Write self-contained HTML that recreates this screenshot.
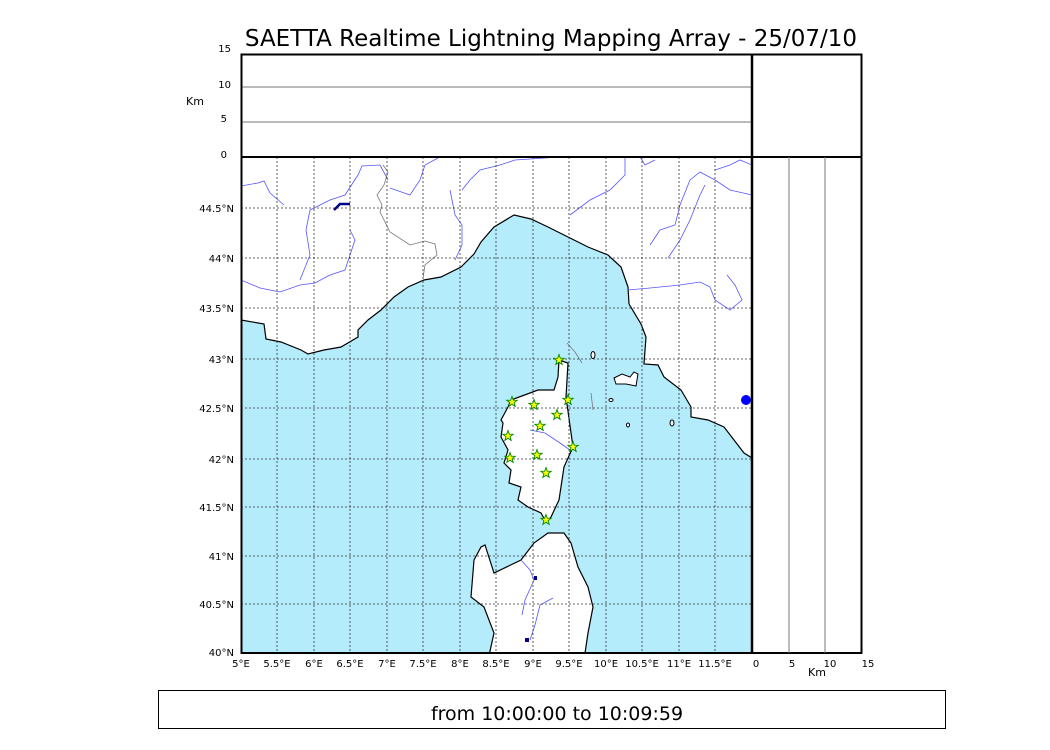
<!DOCTYPE html>
<html><head><meta charset="utf-8"><style>
body{margin:0;background:#fff;}
svg{display:block;font-family:"DejaVu Sans","Liberation Sans",sans-serif;}
</style></head><body>
<svg width="1050" height="750" viewBox="0 0 1050 750">
<rect width="1050" height="750" fill="#fff"/>
<text x="551" y="46" font-size="23" text-anchor="middle">SAETTA Realtime Lightning Mapping Array - 25/07/10</text>
<line x1="241" y1="87" x2="752" y2="87" stroke="#777" stroke-width="1"/>
<line x1="241" y1="122" x2="752" y2="122" stroke="#777" stroke-width="1"/>
<rect x="241.5" y="54.5" width="620" height="102.5" fill="none" stroke="#000" stroke-width="2"/>
<line x1="752" y1="54" x2="752" y2="157" stroke="#000" stroke-width="2.5"/>
<g font-size="10" text-anchor="end">
<text x="231" y="52">15</text><text x="231" y="88">10</text><text x="227" y="122">5</text><text x="227" y="158">0</text>
</g>
<text x="186" y="105" font-size="11">Km</text>
<clipPath id="mc"><rect x="241" y="157" width="511" height="496"/></clipPath>
<g clip-path="url(#mc)">
<path fill="#b5ecfc" stroke="#000" stroke-width="1.2" d="M241,320 L264,324 266,339 281,342 301,350 308,354 324,350 341,347 358,337 358,330 368,320 381,310 394,297 408,287 424,280 441,277 461,267 474,254 481,242 494,227 514,215 531,219 548,227 568,237 588,247 608,255 621,267 628,287 629,304 641,324 646,337 644,364 658,365 664,377 681,390 691,407 691,417 708,420 724,427 734,440 744,453 752,458 L752,660 L241,660 Z"/>
<path fill="#fff" stroke="#000" stroke-width="1.2" d="M559,360 568,363 566,397 573,447 564,467 559,500 551,517 546,522 541,513 528,507 518,500 521,487 509,483 511,470 504,463 508,450 501,437 503,423 501,420 508,407 511,400 538,390 554,390 558,377 Z"/>
<path fill="#fff" stroke="#000" stroke-width="1.2" d="M548,533 564,533 571,543 578,567 588,587 593,607 588,633 584,660 488,660 494,633 484,607 471,597 474,560 481,547 485,545 494,573 521,560 534,543 Z"/>
<path fill="#fff" stroke="#000" stroke-width="1" d="M614,378 622,374 630,377 634,372 638,374 636,386 626,384 616,384 Z"/>
<ellipse cx="593" cy="355" rx="2" ry="3.5" fill="#fff" stroke="#000"/>
<ellipse cx="611" cy="400" rx="2" ry="1.5" fill="#fff" stroke="#000"/>
<ellipse cx="628" cy="425" rx="1.5" ry="2" fill="#fff" stroke="#000"/>
<ellipse cx="672" cy="423" rx="2" ry="3" fill="#fff" stroke="#000"/>
<g fill="none" stroke="#55f" stroke-width="0.8">
<path d="M241,186 258,183 264,181 270,193 284,205"/>
<path d="M241,280 L260,288 280,292 300,285 315,283 330,275 345,270 355,240 350,230"/>
<path d="M310,210 306,230 310,255 300,280 "/>
<path d="M310,210 L330,200 345,195 358,175 362,166 380,165 388,180"/>
<path d="M390,188 410,195 420,180 425,165 438,158"/>
<path d="M450,190 455,215 462,225 462,245 455,260"/>
<path d="M462,190 470,180 480,170 500,165 515,160 560,157"/>
<path d="M570,215 590,200 610,190 625,175 625,157"/>
<path d="M640,157 645,165 655,160"/>
<path d="M650,245 660,230 675,225 680,205 690,180 700,172 715,180 730,190 752,195"/>
<path d="M668,258 680,240 690,220 700,195 705,185"/>
<path d="M628,290 650,288 680,285 700,282 710,287 715,300 730,310 742,300 735,285 727,275"/>
<path d="M715,170 730,165 740,160 752,165"/>
<path d="M530,430 545,433 560,443 570,450"/>
<path d="M521,560 530,570 534,580 525,600 522,615"/>
<path d="M553,598 540,605 535,625 530,640"/>
</g>
<g fill="none" stroke="#777" stroke-width="0.8">
<path d="M383,165 388,172 384,185 377,195 382,205 380,212 390,232 410,245 425,241 435,244 437,255 425,265 423,278"/>
<path d="M567,343 575,352 582,363"/>
<path d="M591,393 593,410"/>
</g>
<path d="M334,210 340,204 350,204" stroke="#00008b" stroke-width="2.5" fill="none"/>
<circle cx="746" cy="400" r="5" fill="#00f"/>
<rect x="534" y="576" width="3" height="4" fill="#00008b"/>
<rect x="525" y="638" width="4" height="4" fill="#00008b"/>
<g stroke="#333" stroke-width="0.8" stroke-dasharray="2,2">
<line x1="277" y1="157" x2="277" y2="653"/><line x1="314" y1="157" x2="314" y2="653"/><line x1="350" y1="157" x2="350" y2="653"/><line x1="387" y1="157" x2="387" y2="653"/><line x1="423" y1="157" x2="423" y2="653"/><line x1="460" y1="157" x2="460" y2="653"/><line x1="496" y1="157" x2="496" y2="653"/><line x1="533" y1="157" x2="533" y2="653"/><line x1="569" y1="157" x2="569" y2="653"/><line x1="606" y1="157" x2="606" y2="653"/><line x1="642" y1="157" x2="642" y2="653"/><line x1="679" y1="157" x2="679" y2="653"/><line x1="715" y1="157" x2="715" y2="653"/>
<line x1="241" y1="208" x2="752" y2="208"/><line x1="241" y1="258" x2="752" y2="258"/><line x1="241" y1="308" x2="752" y2="308"/><line x1="241" y1="359" x2="752" y2="359"/><line x1="241" y1="408" x2="752" y2="408"/><line x1="241" y1="459" x2="752" y2="459"/><line x1="241" y1="507" x2="752" y2="507"/><line x1="241" y1="556" x2="752" y2="556"/><line x1="241" y1="604" x2="752" y2="604"/>
</g>
<g fill="#ff0" stroke="#080" stroke-width="0.9">
<path id="st" d="M0,-5.5 1.3,-1.8 5.2,-1.7 2.1,0.7 3.2,4.4 0,2.2 -3.2,4.4 -2.1,0.7 -5.2,-1.7 -1.3,-1.8Z" transform="translate(559,360)"/>
<use href="#st" transform="translate(-47,42)"/><use href="#st" transform="translate(-25,45)"/><use href="#st" transform="translate(9,40)"/><use href="#st" transform="translate(-2,55)"/><use href="#st" transform="translate(-19,66)"/><use href="#st" transform="translate(-51,76)"/><use href="#st" transform="translate(14,87)"/><use href="#st" transform="translate(-49,98)"/><use href="#st" transform="translate(-22,95)"/><use href="#st" transform="translate(-13,113)"/><use href="#st" transform="translate(-13,160)"/>
</g>
</g>
<rect x="241.5" y="157" width="620" height="496" fill="none" stroke="#000" stroke-width="2"/>
<line x1="752" y1="157" x2="752" y2="653" stroke="#000" stroke-width="2.5"/>
<line x1="789" y1="157" x2="789" y2="653" stroke="#777"/>
<line x1="825" y1="157" x2="825" y2="653" stroke="#777"/>
<g font-size="10" text-anchor="end">
<text x="234" y="212">44.5°N</text><text x="234" y="262">44°N</text><text x="234" y="312">43.5°N</text><text x="234" y="363">43°N</text><text x="234" y="412">42.5°N</text><text x="234" y="463">42°N</text><text x="234" y="511">41.5°N</text><text x="234" y="560">41°N</text><text x="234" y="608">40.5°N</text><text x="234" y="656">40°N</text>
</g>
<g font-size="10" text-anchor="middle">
<text x="241" y="667">5°E</text><text x="277" y="667">5.5°E</text><text x="314" y="667">6°E</text><text x="350" y="667">6.5°E</text><text x="387" y="667">7°E</text><text x="423" y="667">7.5°E</text><text x="460" y="667">8°E</text><text x="496" y="667">8.5°E</text><text x="533" y="667">9°E</text><text x="569" y="667">9.5°E</text><text x="606" y="667">10°E</text><text x="642" y="667">10.5°E</text><text x="679" y="667">11°E</text><text x="715" y="667">11.5°E</text>
<text x="756" y="667">0</text><text x="792" y="667">5</text><text x="830" y="667">10</text><text x="868" y="667">15</text>
</g>
<text x="817" y="676" font-size="11" text-anchor="middle">Km</text>
<rect x="158.5" y="690.5" width="787" height="38" fill="#fff" stroke="#000" stroke-width="1"/>
<text x="557" y="720" font-size="19" text-anchor="middle">from 10:00:00 to 10:09:59</text>
</svg>
</body></html>
